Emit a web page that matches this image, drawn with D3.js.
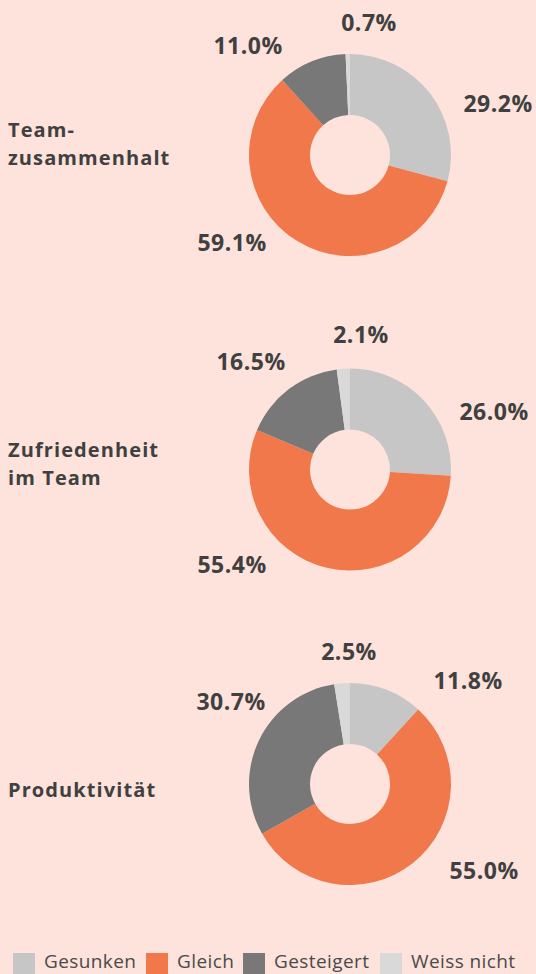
<!DOCTYPE html>
<html><head><meta charset="utf-8">
<script src="https://cdn.jsdelivr.net/npm/d3@7"></script>
<style>
html,body{margin:0;padding:0;background:#fde3db;}
svg{display:block;}
</style></head>
<body>
<svg id="chart" width="536" height="974"></svg>
<script>
// Data
const categories = ["Gesunken", "Gleich", "Gesteigert", "Weiss nicht"];
const charts = [["Team-", "zusammenhalt"], ["Zufriedenheit", "im Team"], ["Produktivität"]];
const teamzusammenhalt = [29.2, 59.1, 11.0, 0.7];
const zufriedenheit = [26.0, 55.4, 16.5, 2.1];
const produktivitaet = [11.8, 55.0, 30.7, 2.5];
const seriesValues = [teamzusammenhalt, zufriedenheit, produktivitaet];

// Layout / style
const colors = ["#c6c6c6", "#f0784a", "#787878", "#d9d9d9"];
const labelOffsets = [
  [[148, -43], [-118, 96], [-102, -101], [19, -124]],
  [[144, -50], [-118, 103], [-99, -100], [11, -127]],
  [[118, -95], [134, 95], [-119, -74], [-1, -124]]
];
const titleBaseOffsets = [-18, -13, 13];
const svg = d3.select("#chart");
const cx = 350, cy0 = 155, step = 314.5;
const outerR = 101, innerR = 40;
const textColor = "#404040";
const font = "'Open Sans', sans-serif";

const pie = d3.pie().sort(null).value(d => d);
const arc = d3.arc().innerRadius(innerR).outerRadius(outerR);
const color = d3.scaleOrdinal().domain(categories).range(colors);

seriesValues.forEach((vals, i) => {
  const cy = cy0 + i * step;
  const g = svg.append("g").attr("transform", `translate(${cx},${cy})`);
  g.selectAll("path").data(pie(vals)).join("path")
    .attr("d", arc)
    .attr("fill", (d, j) => color(categories[j]));
  g.selectAll("text.val").data(vals).join("text")
    .attr("class", "val")
    .attr("x", (d, j) => labelOffsets[i][j][0])
    .attr("y", (d, j) => labelOffsets[i][j][1])
    .attr("text-anchor", "middle")
    .attr("font-family", font)
    .attr("font-weight", 700)
    .attr("font-size", 23)
    .attr("letter-spacing", 0.5)
    .attr("fill", textColor)
    .text(d => d.toFixed(1) + "%");

  const lines = charts[i];
  const lh = 28;
  const firstBase = cy + titleBaseOffsets[i];
  const t = svg.append("text")
    .attr("font-family", font)
    .attr("font-weight", 700)
    .attr("font-size", 20)
    .attr("letter-spacing", 1.1)
    .attr("fill", textColor);
  lines.forEach((ln, k) => {
    t.append("tspan").attr("x", 8).attr("y", firstBase + k * lh).text(ln);
  });
});

// Legend
const legendX = [13, 146, 243, 380];
const lg = svg.append("g");
categories.forEach((c, j) => {
  lg.append("rect").attr("x", legendX[j]).attr("y", 953).attr("width", 22).attr("height", 21)
    .attr("fill", color(c));
  lg.append("text").attr("x", legendX[j] + 31).attr("y", 968)
    .attr("font-family", font).attr("font-size", 19).attr("fill", "#4a4a4a")
    .attr("letter-spacing", 0.4)
    .text(c);
});
</script>
</body></html>
